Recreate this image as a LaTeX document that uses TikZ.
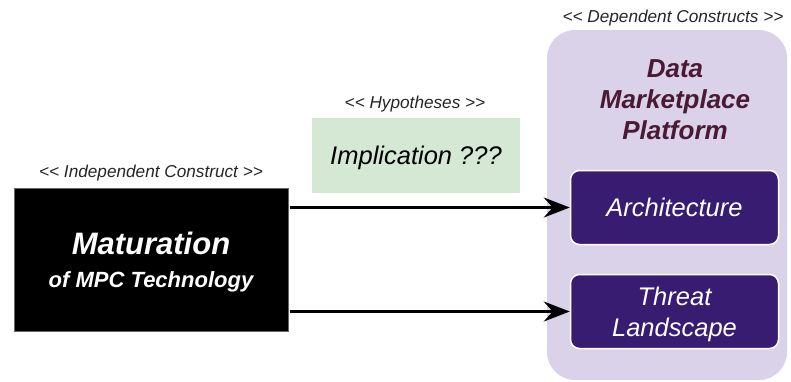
\documentclass[tikz,border=0pt]{standalone}
\usepackage{fontspec}
\setmainfont{Liberation Sans}[Ligatures=NoCommon]
\usetikzlibrary{arrows.meta}
\definecolor{platformbg}{HTML}{DAD2E9}
\definecolor{platformtxt}{HTML}{4A1A35}
\definecolor{partfill}{HTML}{381C72}
\definecolor{hypofill}{HTML}{D5E8D4}
\newcommand{\stereoopen}{{<}{<}}
\newcommand{\stereoclose}{{>}{>}}
\tikzset{
  stereo/.style={font=\fontsize{17.2}{20}\selectfont\itshape, text=black!85},
  partbox/.style={draw=white, line width=1.5pt, fill=partfill, rounded corners=9pt,
    minimum width=208pt, minimum height=74pt, text=white, align=center,
    text depth=0pt, font=\fontsize{25.5}{31}\selectfont\itshape},
  arr/.style={line width=3pt, shorten <=2pt,
    -{Stealth[length=26pt,width=20pt,inset=9pt]}},
}
\begin{document}
\begin{tikzpicture}[x=1pt,y=-1pt]
  \useasboundingbox (0,0) rectangle (791,381);

  % independent construct
  \node[stereo] (indlbl) at (151,173) {\stereoopen{} Independent Construct \stereoclose};
  \node[draw=black!60, fill=black, minimum width=274pt, minimum height=143pt,
        text=white, align=center, text depth=0pt,
        font=\fontsize{22}{33}\selectfont\bfseries\itshape]
        (mat) at (151,259.5)
    {{\fontsize{31}{33}\selectfont Maturation}\\
     of MPC Technology};

  % hypotheses
  \node[stereo] (hyplbl) at (415,104) {\stereoopen{} Hypotheses \stereoclose};
  \node[fill=hypofill, minimum width=208pt, minimum height=75pt, text depth=0pt,
        font=\fontsize{25.5}{28}\selectfont\itshape] (hyp) at (416,155.5) {Implication ???};

  % dependent constructs
  \node[stereo] (deplbl) at (673,18) {\stereoopen{} Dependent Constructs \stereoclose};
  \node[fill=platformbg, rounded corners=28pt, minimum width=240pt,
        minimum height=350pt] (plat) at (667,205) {};
  \node[align=center, text=platformtxt,
        font=\fontsize{26}{31}\selectfont\bfseries\itshape] (plattitle) at (675,99.5)
    {Data\\Marketplace\\Platform};
  \node[partbox] (arch) at (674.5,207.5) {Architecture};
  \node[partbox] (threat) at (674.5,311.5) {Threat\\Landscape};

  % connectors
  \draw[arr] (mat.east |- arch.west) -- (arch.west);
  \draw[arr] (mat.east |- threat.west) -- (threat.west);
\end{tikzpicture}
\end{document}
